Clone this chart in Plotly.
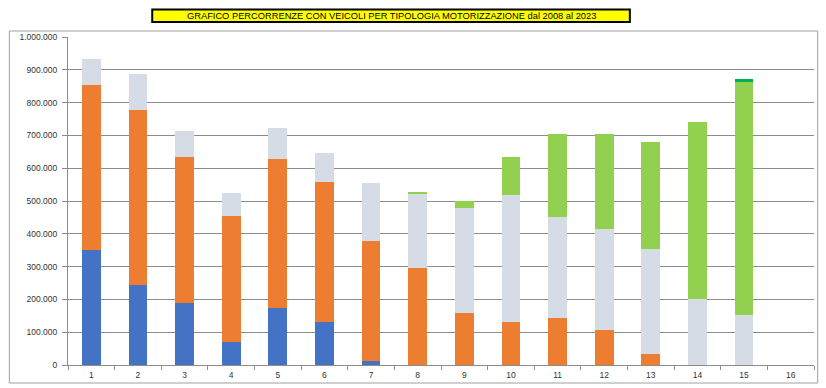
import plotly.graph_objects as go

categories = [str(i) for i in range(1, 17)]

# stacked segment values (bottom -> top)
blue_vals = [351000, 245000, 190000, 69000, 174000, 131000, 13000, 0, 0, 0, 0, 0, 0, 0, 0, 0]
orange_vals = [503000, 533000, 444000, 386000, 455000, 426000, 366000, 296000, 160000, 130000, 143000, 107000, 35000, 0, 0, 0]
gray_vals = [79000, 110000, 79000, 70000, 95000, 90000, 176000, 227000, 318000, 388000, 307000, 307000, 318000, 201000, 153000, 0]
green_vals = [0, 0, 0, 0, 0, 0, 0, 5000, 22000, 117000, 255000, 289000, 328000, 540000, 711000, 0]
darkgreen_vals = [0, 0, 0, 0, 0, 0, 0, 0, 0, 0, 0, 0, 0, 0, 7000, 0]

series = [
    ("Serie 1", blue_vals, "#4472C4"),
    ("Serie 2", orange_vals, "#ED7D31"),
    ("Serie 3", gray_vals, "#D6DCE5"),
    ("Serie 4", green_vals, "#92D050"),
    ("Serie 5", darkgreen_vals, "#00B050"),
]

title_text = "GRAFICO PERCORRENZE CON VEICOLI PER TIPOLOGIA MOTORIZZAZIONE dal 2008 al 2023"

fig = go.Figure()
for name, vals, color in series:
    fig.add_trace(go.Bar(x=categories, y=vals, name=name, marker=dict(color=color, line=dict(width=0))))

# plot area geometry (pixels) used to convert decoration positions to paper coords
W, H = 826, 388
L, R, T, B = 67.7, 11.7, 37, 23
pw = W - L - R
ph = H - T - B

def px(x):
    return (x - L) / pw

def py(y):
    return (H - B - y) / ph

fig.update_layout(
    width=W, height=H,
    margin=dict(l=L, r=R, t=T, b=B, pad=0, autoexpand=False),
    barmode="stack",
    bargap=0.6,
    showlegend=False,
    plot_bgcolor="white",
    paper_bgcolor="white",
    separators=",.",
    font=dict(family="Liberation Sans, Arial, sans-serif", size=8.5, color="#333333"),
    xaxis=dict(
        type="category",
        automargin=False,
        showline=True, linecolor="#8c8c8c", linewidth=1,
        ticks="outside", tickson="boundaries", ticklen=4, tickcolor="#8c8c8c",
        showgrid=False,
        tickfont=dict(size=8.5, color="#333333"),
        ticklabelstandoff=2,
    ),
    yaxis=dict(
        automargin=False,
        range=[0, 1000000],
        tickvals=[i * 100000 for i in range(11)],
        tickformat=",d",
        showline=True, linecolor="#8c8c8c", linewidth=1,
        ticks="outside", ticklen=5, tickcolor="#8c8c8c",
        showgrid=True, gridcolor="#8c8c8c", gridwidth=1,
        zeroline=False,
        tickfont=dict(size=8.5, color="#333333"),
        ticklabelstandoff=3,
    ),
    shapes=[
        dict(type="rect", xref="paper", yref="paper",
             x0=px(9), x1=px(818), y0=py(383), y1=py(31),
             line=dict(color="#a0a0a0", width=1), fillcolor="rgba(0,0,0,0)", layer="below"),
        dict(type="rect", xref="paper", yref="paper",
             x0=px(152), x1=px(630), y0=py(22), y1=py(9.5),
             line=dict(color="#000000", width=2), fillcolor="#FFFF00"),
    ],
    annotations=[
        dict(text=title_text, xref="paper", yref="paper",
             x=px(391), y=py(15.7), xanchor="center", yanchor="middle",
             showarrow=False,
             font=dict(family="Liberation Sans, Arial, sans-serif", size=9.3, color="#000000")),
    ],
)

fig.write_html(
    "out.html",
    config={"displayModeBar": False},
    post_script="document.body.style.margin='0';document.body.style.overflow='hidden';",
)
